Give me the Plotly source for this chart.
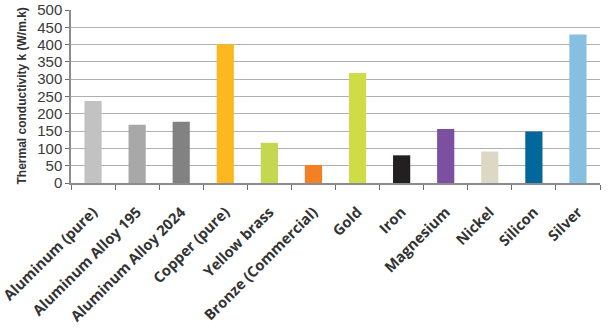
import plotly.graph_objects as go

materials = ["Aluminum (pure)", "Aluminum Alloy 195", "Aluminum Alloy 2024", "Copper (pure)",
             "Yellow brass", "Bronze (Commercial)", "Gold", "Iron", "Magnesium", "Nickel",
             "Silicon", "Silver"]
conductivity = [237, 168, 177, 401, 116, 52, 318, 80, 156, 91, 149, 429]
bar_colors = ["#c2c2c2", "#a8a8a8", "#828282", "#fbb81f", "#c3d74f", "#f38025", "#cfdc48",
              "#231f20", "#7d4fa0", "#ddd8c5", "#02679a", "#86bfdf"]
y_ticks = list(range(0, 501, 50))

W, H = 608, 329
ML, MR, MT, MB = 71, 8, 10, 146

fig = go.Figure(go.Bar(
    x=materials, y=conductivity,
    marker=dict(color=bar_colors, line=dict(width=0)),
))

fig.update_layout(
    width=W, height=H,
    margin=dict(l=ML, r=MR, t=MT, b=MB),
    plot_bgcolor="white", paper_bgcolor="white",
    bargap=0.61, showlegend=False,
    font=dict(family="Liberation Sans, Arial", color="#3a3a3a"),
)
fig.update_xaxes(
    automargin=False,
    showline=True, linecolor="#8c8c8c", linewidth=1.5,
    ticks="outside", tickson="boundaries", ticklen=5, tickcolor="#6e6e6e",
    tickangle=-45, ticklabelstandoff=13,
    tickfont=dict(family="Open Sans", size=14.7, color="#333333", weight="bold"),
    showgrid=False,
)
fig.update_yaxes(
    automargin=False,
    range=[0, 500], tickvals=y_ticks,
    showline=True, linecolor="#8c8c8c", linewidth=1.5,
    ticks="outside", ticklen=4, tickcolor="#6e6e6e",
    tickfont=dict(size=15, color="#3a3a3a"),
    showgrid=True, gridcolor="#b0b0b0", gridwidth=1.4,
    zeroline=False,
)

# vertical axis title, placed in the left margin
plot_w = W - ML - MR
fig.add_annotation(
    text="Thermal conductivity k (W/m.k)",
    xref="paper", yref="paper", x=(21 - ML) / plot_w, y=0.5,
    xanchor="center", yanchor="middle", textangle=-90, showarrow=False,
    font=dict(size=12, color="#333333", weight="bold"),
)

fig.write_html("out.html")
